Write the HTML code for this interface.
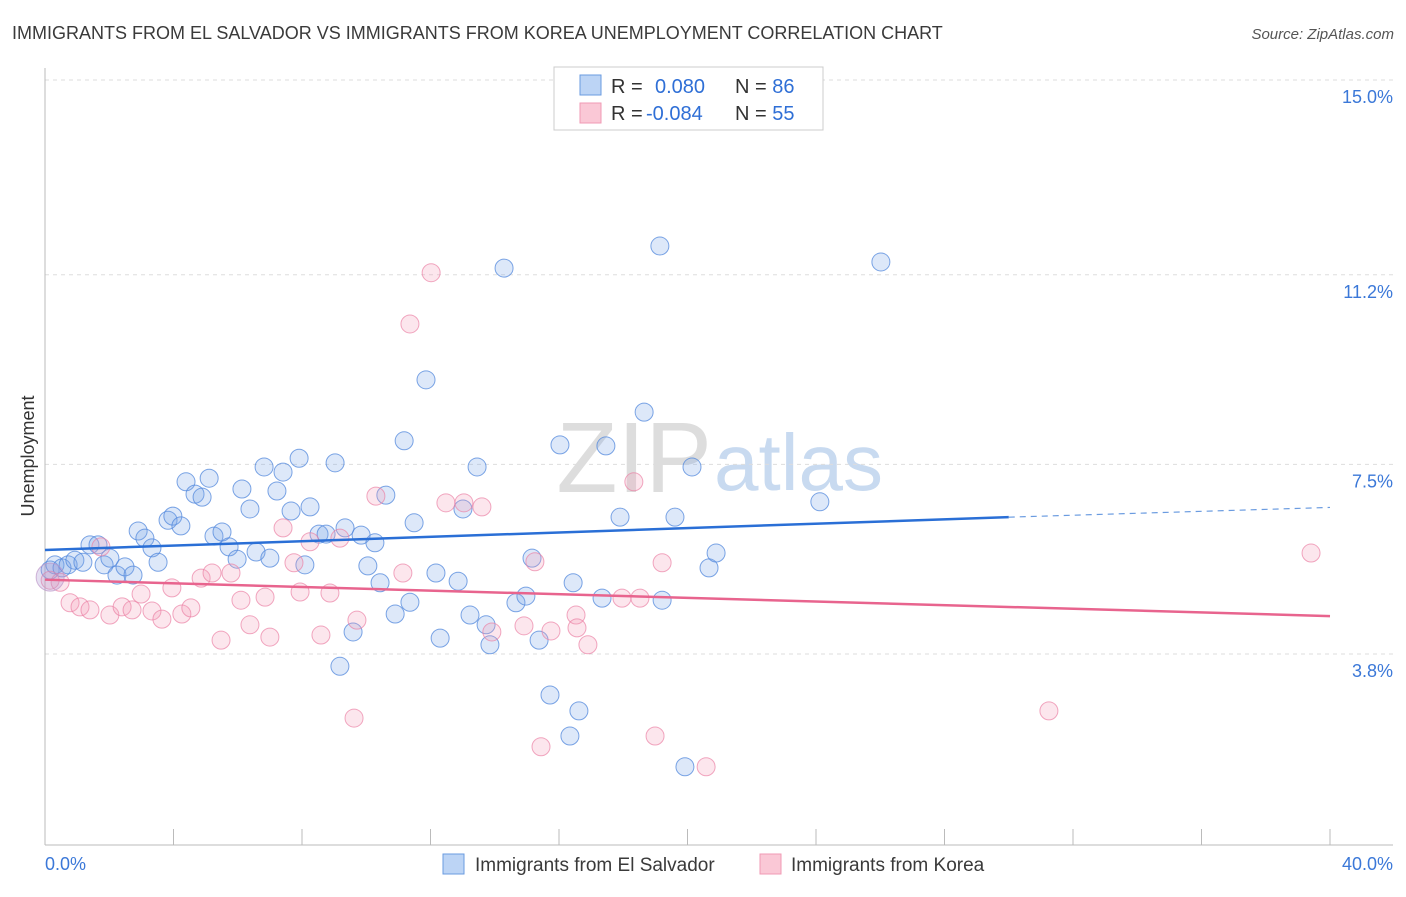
<!DOCTYPE html>
<html><head><meta charset="utf-8"><style>
body{margin:0;background:#fff;font-family:"Liberation Sans",sans-serif}
svg text{font-family:"Liberation Sans",sans-serif}
</style></head><body>
<svg width="1406" height="892" id="chart">
<text x="12" y="39" font-size="18" fill="#3a3a3a">IMMIGRANTS FROM EL SALVADOR VS IMMIGRANTS FROM KOREA UNEMPLOYMENT CORRELATION CHART</text>
<text x="1394" y="39" font-size="15" fill="#555" font-style="italic" text-anchor="end">Source: ZipAtlas.com</text>
<text x="712" y="492" font-size="100" text-anchor="end" fill="#ddd" font-family="Liberation Serif">ZIP</text>
<text x="714" y="490" font-size="80" fill="#c8daf0">atlas</text>
<text transform="translate(34,456) rotate(-90)" font-size="18" fill="#333" text-anchor="middle">Unemployment</text>
<g id="grid"></g><g id="marks"></g>
<g>
<rect x="554" y="67" width="269" height="63" fill="#fff" stroke="#ccc"/>
<rect x="580" y="75" width="21" height="20" fill="#bcd4f5" stroke="#6a9be0"/>
<rect x="580" y="103" width="21" height="20" fill="#fac8d6" stroke="#f09ab4"/>
<text x="611" y="93" font-size="20" fill="#333">R = <tspan fill="#2f6fd6" x="655">0.080</tspan><tspan x="735" fill="#333">N = </tspan><tspan fill="#2f6fd6">86</tspan></text>
<text x="611" y="120" font-size="20" fill="#333">R = <tspan fill="#2f6fd6" x="646">-0.084</tspan><tspan x="735" fill="#333">N = </tspan><tspan fill="#2f6fd6">55</tspan></text>
</g>
<g>
<rect x="443" y="854" width="21" height="20" fill="#bcd4f5" stroke="#6a9be0"/>
<text x="475" y="871" font-size="19" fill="#3a3a3a">Immigrants from El Salvador</text>
<rect x="760" y="854" width="21" height="20" fill="#fac8d6" stroke="#f09ab4"/>
<text x="791" y="871" font-size="19" fill="#3a3a3a">Immigrants from Korea</text>
</g>
</svg>
<script>
const yTicks=[3.8,7.5,11.2,15.0];
const yTickLabels=["3.8%","7.5%","11.2%","15.0%"];
const xTickLabels=["0.0%","40.0%"];
const blueX=[0.16,0.31,0.53,0.72,0.93,1.18,1.40,1.65,1.84,2.02,2.24,2.49,2.74,2.90,3.11,3.33,3.52,3.83,3.98,4.23,4.39,4.67,4.89,5.11,5.26,5.51,5.73,5.98,6.13,6.38,6.57,6.82,7.00,7.22,7.41,7.66,7.91,8.09,8.25,8.53,8.75,9.03,9.18,9.34,9.59,9.84,10.05,10.27,10.43,10.61,10.90,11.18,11.36,11.49,11.86,12.17,12.30,12.86,13.01,13.23,13.45,13.73,13.85,14.29,14.66,14.97,15.16,15.38,15.72,16.03,16.34,16.44,16.62,17.34,17.46,17.90,18.65,19.14,19.21,19.61,19.92,20.14,20.67,20.89,24.12,26.02];
const blueY=[5.44,5.54,5.48,5.54,5.63,5.59,5.93,5.93,5.54,5.67,5.34,5.50,5.34,6.20,6.06,5.87,5.59,6.41,6.49,6.30,7.16,6.92,6.86,7.23,6.10,6.18,5.89,5.65,7.02,6.63,5.79,7.45,5.67,6.98,7.35,6.59,7.62,5.54,6.67,6.14,6.14,7.53,3.56,6.26,4.23,6.12,5.52,5.97,5.19,6.90,4.58,7.96,4.81,6.36,9.15,5.38,4.11,5.22,6.63,4.56,7.45,4.37,3.98,11.33,4.80,4.93,5.67,4.07,3.00,7.88,2.20,5.19,2.69,4.89,7.86,6.47,8.52,11.76,4.85,6.47,1.60,7.45,5.48,5.77,6.77,11.45];
const pinkX=[0.16,0.47,0.78,1.09,1.40,1.74,2.02,2.40,2.71,2.99,3.33,3.64,3.95,4.26,4.54,4.86,5.20,5.48,5.79,6.10,6.38,6.85,7.00,7.41,7.75,7.94,8.25,8.59,8.87,9.18,9.62,9.71,10.30,11.14,11.36,12.02,12.48,13.04,13.60,13.91,14.91,15.25,15.44,15.75,16.53,16.56,16.90,17.96,18.33,18.52,18.99,19.21,20.58,31.25,39.41];
const pinkY=[5.24,5.20,4.80,4.72,4.66,5.89,4.56,4.72,4.66,4.97,4.64,4.48,5.09,4.58,4.70,5.28,5.38,4.07,5.38,4.85,4.37,4.91,4.13,6.26,5.58,5.01,5.99,4.17,4.99,6.06,2.55,4.46,6.88,5.38,10.24,11.24,6.75,6.75,6.67,4.23,4.35,5.60,1.99,4.25,4.56,4.31,3.98,4.89,7.16,4.89,2.20,5.58,1.60,2.69,5.77];
const blueTrend=[5.83,6.47,6.66]; // at x=0, 30, 40
const pinkTrend=[5.25,4.54]; // at x=0, 40
const X=v=>45+v*32.125, Y=v=>848.75-v*51.25;
const NS="http://www.w3.org/2000/svg";
function mk(t,a,p){const e=document.createElementNS(NS,t);for(const k in a)e.setAttribute(k,a[k]);p.appendChild(e);return e;}
const grid=document.getElementById('grid'),marks=document.getElementById('marks');
yTicks.forEach((t,i)=>{
 const g=mk('line',{x1:45,x2:1393,y1:Y(t),y2:Y(t),stroke:'#ddd','stroke-dasharray':'4,4'},grid);
 
 
 const l=mk('text',{x:1393,y:Y(t)+23,'font-size':18,fill:'#3b78d8','text-anchor':'end'},grid);
 l.textContent=yTickLabels[i];
 
 
});
const ax=mk('line',{x1:45,x2:45,y1:68,y2:845,stroke:'#bbb'},grid);


const bx=mk('line',{x1:45,x2:1393,y1:845,y2:845,stroke:'#bbb'},grid);


for(let i=0;i<=10;i++){const t=mk('line',{x1:X(i*4),x2:X(i*4),y1:829,y2:845,stroke:'#bbb'},grid);
 
 }
[[0,'start',45],[40,'end',1393]].forEach((d,i)=>{const l=mk('text',{x:d[2],y:870,'font-size':18,fill:'#3b78d8','text-anchor':d[1]},grid);
 l.textContent=xTickLabels[i];
 
 });
function pts(xs,ys,fill,stroke,name){xs.forEach((x,i)=>{const c=mk('circle',{cx:X(x),cy:Y(ys[i]),r:9,fill:fill,stroke:stroke,'stroke-width':1},marks);
 
 });}
pts(blueX,blueY,'rgba(120,165,230,0.25)','rgba(80,135,220,0.75)','point-el-salvador');
pts(pinkX,pinkY,'rgba(245,155,185,0.25)','rgba(235,130,165,0.7)','point-korea');
const big=mk('circle',{cx:X(0.16),cy:Y(5.3),r:14,fill:'rgba(170,150,210,0.3)',stroke:'rgba(190,150,200,0.7)'},marks);


const bt=mk('line',{x1:X(0),y1:Y(blueTrend[0]),x2:X(30),y2:Y(blueTrend[1]),stroke:'#2a6fd6','stroke-width':2.5},marks);


const bd=mk('line',{x1:X(30),y1:Y(blueTrend[1]),x2:X(40),y2:Y(blueTrend[2]),stroke:'#6a9be0','stroke-width':1.2,'stroke-dasharray':'6,5'},marks);


const pt=mk('line',{x1:X(0),y1:Y(pinkTrend[0]),x2:X(40),y2:Y(pinkTrend[1]),stroke:'#e8648e','stroke-width':2.5},marks);


</script>
</body></html>
